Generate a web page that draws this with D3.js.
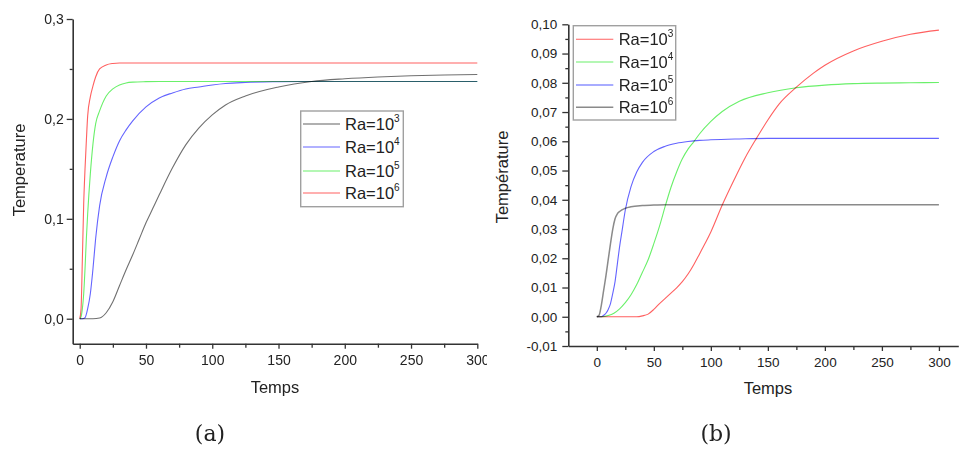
<!DOCTYPE html>
<html><head><meta charset="utf-8">
<script src="https://cdn.jsdelivr.net/npm/d3@7"></script>
<style>
body{margin:0;background:#fff}
svg{display:block}
text{font-family:"Liberation Sans",Arial,sans-serif;fill:#222}
</style>
</head><body>
<svg id="c" width="959" height="452"></svg>
<script>
// ---------------- DATA ----------------
// Panel (a)
const xTicksA = [0, 50, 100, 150, 200, 250, 300];
const yTicksA = [0, 0.1, 0.2, 0.3];
const legendA = ["3", "4", "5", "6"];
const tA_Ra3 = [0,10,15,20,25,30,35,40,45,50,55,60,70,80,90,100,110,125,150,175,200,225,250,275,300];
const vA_Ra3 = [0,0,0.0007,0.006,0.017,0.033,0.049,0.064,0.08,0.096,0.11,0.124,0.151,0.174,0.191,0.204,0.214,0.223,0.232,0.2375,0.2402,0.242,0.2432,0.244,0.2445];
const tA_Ra4 = [0,2,4,6,8,10,12,15,20,25,30,35,40,50,60,70,80,90,100,110,125,150,175,200,250,300];
const vA_Ra4 = [0,0,0.001,0.01,0.025,0.05,0.08,0.113,0.142,0.162,0.178,0.189,0.198,0.212,0.221,0.226,0.23,0.232,0.234,0.2355,0.2365,0.2372,0.2375,0.2375,0.2375,0.2375];
const tA_Ra5 = [0,1,2,3,4,5,6,8,10,12,15,20,25,30,35,40,50,60,100,150,200,250,300];
const vA_Ra5 = [0,0.002,0.01,0.025,0.05,0.08,0.105,0.145,0.175,0.195,0.208,0.223,0.23,0.234,0.236,0.2368,0.2373,0.2375,0.2375,0.2375,0.2375,0.2375,0.2375];
const tA_Ra6 = [0,1,2,3,4,5,6,8,10,12,15,20,25,30,50,100,150,200,250,300];
const vA_Ra6 = [0,0.01,0.06,0.115,0.15,0.178,0.203,0.222,0.233,0.242,0.25,0.254,0.2555,0.256,0.256,0.256,0.256,0.256,0.256,0.256];

// Panel (b)
const xTicksB = [0, 50, 100, 150, 200, 250, 300];
const yTicksB = [-0.01, 0, 0.01, 0.02, 0.03, 0.04, 0.05, 0.06, 0.07, 0.08, 0.09, 0.10];
const legendB = ["3", "4", "5", "6"];
const tB_Ra3 = [0,30,35,40,45,50,55,60,65,70,75,80,85,90,95,100,110,120,130,140,150,160,175,190,200,225,250,275,300];
const vB_Ra3 = [0,0,0,0.0003,0.0009,0.0025,0.0045,0.0063,0.0081,0.0099,0.012,0.0146,0.0178,0.0214,0.0251,0.029,0.0382,0.0465,0.0543,0.061,0.0673,0.0728,0.0785,0.0833,0.086,0.0909,0.0942,0.0966,0.098];
const tB_Ra4 = [0,5,10,15,20,25,30,35,40,45,50,55,60,65,70,75,80,85,90,100,110,125,150,175,200,225,250,275,300];
const vB_Ra4 = [0,0,0.0004,0.0012,0.0027,0.0048,0.0075,0.011,0.0152,0.0195,0.025,0.031,0.0378,0.0442,0.0495,0.054,0.0573,0.0598,0.0625,0.0668,0.0702,0.0737,0.0766,0.0783,0.0792,0.0797,0.0799,0.08,0.0801];
const tB_Ra5 = [0,2,4,6,8,10,12,14,16,18,20,22,25,30,35,40,50,60,70,80,90,100,125,150,200,250,300];
const vB_Ra5 = [0,0,0,0.0005,0.0012,0.0025,0.0045,0.008,0.012,0.018,0.024,0.029,0.0365,0.0445,0.0495,0.0528,0.0565,0.0583,0.0593,0.0599,0.0603,0.0605,0.0608,0.061,0.061,0.061,0.061];
const tB_Ra6 = [0,2,4,6,8,10,12,14,16,18,20,25,30,40,50,60,100,150,200,250,300];
const vB_Ra6 = [0,0.0005,0.004,0.009,0.014,0.0195,0.025,0.03,0.0335,0.0352,0.036,0.0371,0.0376,0.038,0.0382,0.0383,0.0383,0.0383,0.0383,0.0383,0.0383];

// ---------------- DRAW ----------------
const svg = d3.select("#c");
const fmt = (p) => (v) => d3.format("." + p + "f")(v).replace(".", ",").replace("\u2212", "-");

function zip(t, v) { return t.map((d, i) => [d, v[i]]); }

function panel(cfg) {
  const g = svg.append("g");
  if (cfg.clipW) {
    svg.append("clipPath").attr("id", cfg.id + "clip")
      .append("rect").attr("x", 0).attr("y", 0).attr("width", cfg.clipW).attr("height", 452);
    g.attr("clip-path", `url(#${cfg.id}clip)`);
  }
  const x = d3.scaleLinear().domain(cfg.xDom).range(cfg.xRange);
  const y = d3.scaleLinear().domain(cfg.yDom).range(cfg.yRange);
  const axisY0 = cfg.yRange[0];
  const axisX0 = cfg.xRange[0];

  // lines
  const line = d3.line().x(d => x(d[0])).y(d => y(d[1])).curve(d3.curveMonotoneX);
  cfg.series.forEach(s => {
    g.append("path").datum(zip(s.t, s.v))
      .attr("d", line).attr("fill", "none")
      .attr("stroke", s.color).attr("stroke-width", s.w)
      .style("mix-blend-mode", "multiply");
  });

  // x axis minor
  g.append("g").attr("transform", `translate(0,${axisY0})`)
    .call(d3.axisBottom(x).tickValues(cfg.xMinor).tickSize(4).tickFormat(""))
    .call(a => a.select(".domain").remove())
    .call(a => a.selectAll("line").attr("stroke", "#333").attr("stroke-width", 1.3));
  // x axis major
  g.append("g").attr("transform", `translate(0,${axisY0})`)
    .call(d3.axisBottom(x).tickValues(cfg.xTicks).tickSize(5).tickSizeOuter(0).tickPadding(6).tickFormat(d3.format("d")))
    .call(a => a.select(".domain").attr("stroke", "#333").attr("stroke-width", 1.6))
    .call(a => a.selectAll("line").attr("stroke", "#333").attr("stroke-width", 1.3))
    .call(a => a.selectAll("text").attr("font-size", cfg.tickFont).attr("fill", "#222")
      .attr("font-family", "Liberation Sans, Arial, sans-serif"));
  // y axis minor
  g.append("g").attr("transform", `translate(${axisX0},0)`)
    .call(d3.axisLeft(y).tickValues(cfg.yMinor).tickSize(3).tickFormat(""))
    .call(a => a.select(".domain").remove())
    .call(a => a.selectAll("line").attr("stroke", "#333").attr("stroke-width", 1.3));
  // y axis major
  g.append("g").attr("transform", `translate(${axisX0},0)`)
    .call(d3.axisLeft(y).tickValues(cfg.yTicks).tickSize(6).tickSizeOuter(0).tickPadding(cfg.yPad).tickFormat(fmt(cfg.yPrec)))
    .call(a => a.select(".domain").attr("stroke", "#333").attr("stroke-width", 1.6))
    .call(a => a.selectAll("line").attr("stroke", "#333").attr("stroke-width", 1.3))
    .call(a => a.selectAll("text").attr("font-size", cfg.tickFont).attr("fill", "#222")
      .attr("font-family", "Liberation Sans, Arial, sans-serif"));

  // axis titles
  g.append("text").attr("x", cfg.xTitle[0]).attr("y", cfg.xTitle[1])
    .attr("text-anchor", "middle").attr("font-size", 16.5).text("Temps");
  g.append("text").attr("transform", `translate(${cfg.yTitle[0]},${cfg.yTitle[1]}) rotate(-90)`)
    .attr("text-anchor", "middle").attr("dy", "0.35em").attr("font-size", 16.5).text(cfg.yTitleText);

  // legend
  const L = cfg.legend;
  g.append("rect").attr("x", L.x).attr("y", L.y).attr("width", L.w).attr("height", L.h)
    .attr("fill", "#fff").attr("stroke", "#a0a0a0").attr("stroke-width", 1.4);
  cfg.series.forEach((s, i) => {
    const ry = L.rows[i];
    g.append("line").attr("x1", L.lx1).attr("x2", L.lx2).attr("y1", ry).attr("y2", ry)
      .attr("stroke", s.lcolor || s.color).attr("stroke-width", s.lw || s.w);
    const t = g.append("text").attr("x", L.tx).attr("y", ry + 6).attr("font-size", 16.5);
    t.append("tspan").text("Ra=10");
    t.append("tspan").attr("font-size", 10).attr("dy", -8).text(s.exp);
  });
}

panel({
  id: "a", clipW: 487,
  xDom: [-5.3, 300], xRange: [72.7, 477.3],
  yDom: [-0.025, 0.3], yRange: [343.7, 19],
  xTicks: xTicksA, xMinor: [25, 75, 125, 175, 225, 275],
  yTicks: yTicksA, yMinor: [0.05, 0.15, 0.25],
  yPrec: 1, yPad: 3, tickFont: 14,
  xTitle: [275, 393], yTitle: [19, 170], yTitleText: "Temperature",
  legend: { x: 300.7, y: 111, w: 102.6, h: 95.7, rows: [124, 147, 171, 193], lx1: 303, lx2: 340, tx: 345 },
  series: [
    { t: tA_Ra3, v: vA_Ra3, color: "#707070", w: 1.1, lcolor: "#b0b0b0", lw: 2.2, exp: legendA[0] },
    { t: tA_Ra4, v: vA_Ra4, color: "#6464ff", w: 1.1, exp: legendA[1] },
    { t: tA_Ra5, v: vA_Ra5, color: "#6af06a", w: 1.1, exp: legendA[2] },
    { t: tA_Ra6, v: vA_Ra6, color: "#ff6060", w: 1.1, exp: legendA[3] }
  ]
});

panel({
  id: "b",
  xDom: [-25, 317], xRange: [568.3, 958.3],
  yDom: [-0.01, 0.10], yRange: [346, 24.3],
  xTicks: xTicksB, xMinor: [25, 75, 125, 175, 225, 275],
  yTicks: yTicksB, yMinor: d3.range(-0.005, 0.1, 0.01),
  yPrec: 2, yPad: 5, tickFont: 13.5,
  xTitle: [768, 394], yTitle: [502, 177], yTitleText: "Température",
  legend: { x: 573.3, y: 25.7, w: 102.4, h: 94.3, rows: [39.3, 62, 85, 107.3], lx1: 576, lx2: 613.3, tx: 618.7 },
  series: [
    { t: tB_Ra3, v: vB_Ra3, color: "#ff6060", w: 1.1, exp: legendB[0] },
    { t: tB_Ra4, v: vB_Ra4, color: "#6af06a", w: 1.1, exp: legendB[1] },
    { t: tB_Ra5, v: vB_Ra5, color: "#6464ff", w: 1.1, lcolor: "#a8acff", lw: 2.2, exp: legendB[2] },
    { t: tB_Ra6, v: vB_Ra6, color: "#8a8a8a", w: 1.5, exp: legendB[3] }
  ]
});

// panel captions
svg.append("text").attr("x", 210).attr("y", 441).attr("text-anchor", "middle")
  .style("font-family", "DejaVu Serif, serif").attr("font-size", 22).text("(a)");
svg.append("text").attr("x", 716).attr("y", 441).attr("text-anchor", "middle")
  .style("font-family", "DejaVu Serif, serif").attr("font-size", 22).text("(b)");
</script>
</body></html>
